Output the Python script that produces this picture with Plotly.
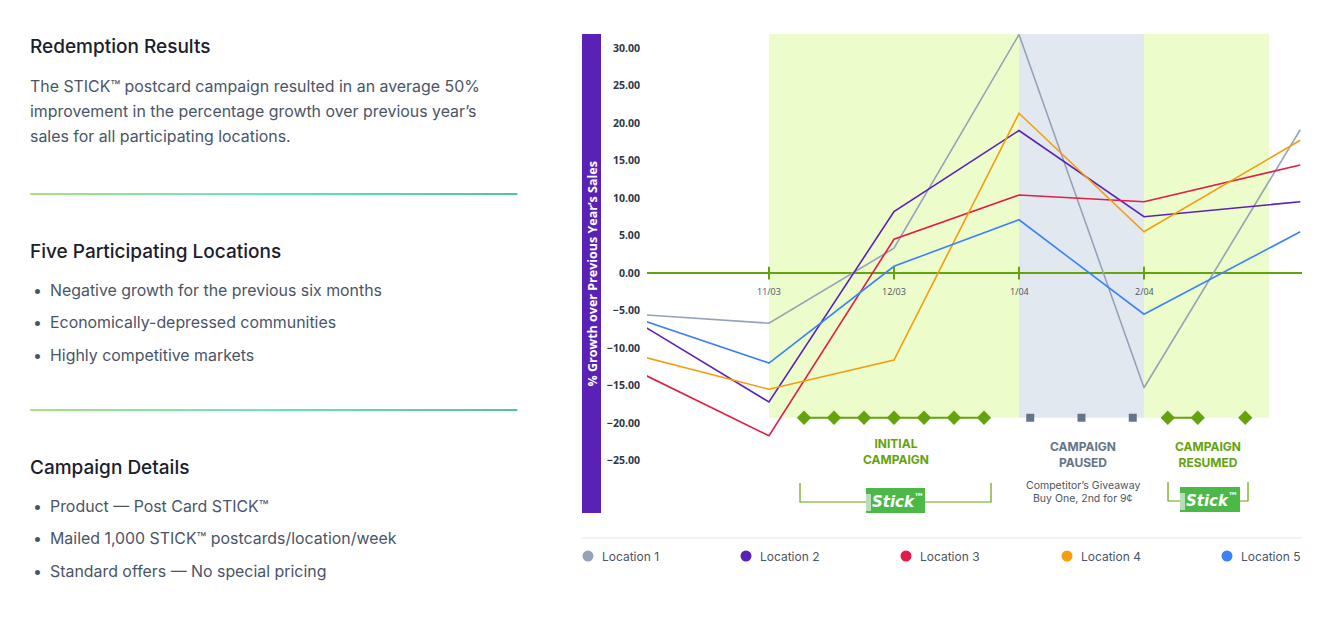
import plotly.graph_objects as go

# ---------------- data ----------------
x_pos = [-0.98, 0, 1, 2, 3, 4.25]
tick_pos = [0, 1, 2, 3]
tick_labels = ["11/03", "12/03", "1/04", "2/04"]
y_ticks = [-25, -20, -15, -10, -5, 0, 5, 10, 15, 20, 25, 30]

loc1 = [-5.6, -6.7, 3.3, 31.8, -15.3, 19.1]
loc2 = [-7.3, -17.2, 8.2, 19.0, 7.5, 9.5]
loc3 = [-13.7, -21.7, 4.5, 10.4, 9.5, 14.4]
loc4 = [-11.3, -15.5, -11.6, 21.3, 5.5, 17.7]
loc5 = [-6.5, -12.0, 0.9, 7.1, -5.5, 5.5]
series_names = ["Location 1", "Location 2", "Location 3", "Location 4", "Location 5"]
series_vals = [loc1, loc2, loc3, loc4, loc5]
series_colors = ["#94a3b8", "#5b21b6", "#e11d48", "#f59e0b", "#3b82f6"]

initial_weeks = [0.28, 0.52, 0.76, 1.0, 1.24, 1.48, 1.72]
paused_weeks = [2.09, 2.5, 2.91]
resumed_weeks_a = [3.19, 3.43]
resumed_weeks_b = [3.81]

phases = [(0, 2, "#ecfccb"), (2, 3, "#e2e8f0"), (3, 4, "#ecfccb")]
BAND_BOTTOM = -19.3

# ---------------- geometry helpers (screen pixels -> figure coords) ----------------
OFF = 8  # page body margin
W, H = 1323 - OFF, 620 - OFF
L, R, T, B = 647, 1302, 34, 513          # plot area in screen pixels
PW, PH = R - L, B - T
YMIN, YMAX = -32.0, 31.87


def px(xp):
    return (xp - L) / PW


def py(yp):
    return (B - yp) / PH


def vy(yp):
    return YMIN + (B - yp) / PH * (YMAX - YMIN)


def vx(xp):
    return (xp - 769) / 125.0


GREEN = "#65a30d"
SLATE = "#64748b"
TEXT = "#4a5568"
DARK = "#1a202c"

fig = go.Figure()

shapes = []
for x0, x1, c in phases:
    shapes.append(dict(type="rect", xref="x", yref="y", x0=x0, x1=x1, y0=BAND_BOTTOM, y1=YMAX,
                       fillcolor=c, line=dict(width=0), layer="below"))

shapes.append(dict(type="line", xref="x", yref="y", x0=vx(L), x1=vx(R), y0=0, y1=0,
                   line=dict(color=GREEN, width=2), layer="below"))
for t in tick_pos:
    shapes.append(dict(type="line", xref="x", yref="y", x0=t, x1=t, y0=-0.85, y1=0.85,
                       line=dict(color=GREEN, width=2), layer="below"))

shapes.append(dict(type="rect", xref="paper", yref="paper", x0=px(582), x1=px(601), y0=0, y1=1,
                   fillcolor="#5b21b6", line=dict(width=0)))


def bracket(xl, xr, ytop, ybot):
    return dict(type="path", xref="x", yref="y",
                path=f"M {vx(xl)} {vy(ytop)} L {vx(xl)} {vy(ybot)} L {vx(xr)} {vy(ybot)} L {vx(xr)} {vy(ytop)}",
                line=dict(color=GREEN, width=1.2))


shapes.append(bracket(800, 991, 483, 502))
shapes.append(bracket(1168, 1248, 482, 501))
LOGOS = [(866, 925, 488, 513), (1180, 1240, 487, 512)]
for (xl, xr, yt, yb) in LOGOS:
    shapes.append(dict(type="rect", xref="x", yref="y", x0=vx(xl), x1=vx(xr), y0=vy(yb), y1=vy(yt),
                       fillcolor="#4cb848", line=dict(width=0)))
    shapes.append(dict(type="rect", xref="x", yref="y", x0=vx(xl), x1=vx(xl + 5), y0=vy(yb - 2), y1=vy(yt + 6),
                       fillcolor="#b7dfb3", line=dict(width=0)))

# legend separator
shapes.append(dict(type="line", xref="paper", yref="paper", x0=px(582), x1=1, y0=py(538), y1=py(538),
                   line=dict(color="#e2e8f0", width=1)))

stops = [(0.0, (168, 224, 128)), (0.5, (100, 228, 192)), (1.0, (80, 194, 160))]


def grad_color(f):
    for (f0, c0), (f1, c1) in zip(stops[:-1], stops[1:]):
        if f0 <= f <= f1:
            t = (f - f0) / (f1 - f0)
            return "rgb(%d,%d,%d)" % tuple(round(a + (b - a) * t) for a, b in zip(c0, c1))
    return "rgb(80,194,160)"


NSEG = 40
for yline in (194, 410):
    for i in range(NSEG):
        xa = 30 + (517 - 30) * i / NSEG
        xb = 30 + (517 - 30) * (i + 1) / NSEG
        shapes.append(dict(type="line", xref="paper", yref="paper", x0=px(xa), x1=px(xb) + 0.0005,
                           y0=py(yline), y1=py(yline), line=dict(color=grad_color((i + 0.5) / NSEG), width=2)))

for name, vals, col in zip(series_names, series_vals, series_colors):
    fig.add_trace(go.Scatter(x=x_pos, y=vals, mode="lines", name=name, showlegend=False,
                             line=dict(color=col, width=1.6), cliponaxis=False, hoverinfo="name+y"))

fig.add_trace(go.Scatter(x=initial_weeks, y=[BAND_BOTTOM] * len(initial_weeks), mode="lines+markers",
                         line=dict(color=GREEN, width=2), marker=dict(symbol="diamond", size=11, color=GREEN),
                         showlegend=False, cliponaxis=False, hoverinfo="skip"))
fig.add_trace(go.Scatter(x=paused_weeks, y=[BAND_BOTTOM] * len(paused_weeks), mode="markers",
                         marker=dict(symbol="square", size=8, color=SLATE),
                         showlegend=False, cliponaxis=False, hoverinfo="skip"))
fig.add_trace(go.Scatter(x=resumed_weeks_a, y=[BAND_BOTTOM] * len(resumed_weeks_a), mode="lines+markers",
                         line=dict(color=GREEN, width=2), marker=dict(symbol="diamond", size=11, color=GREEN),
                         showlegend=False, cliponaxis=False, hoverinfo="skip"))
fig.add_trace(go.Scatter(x=resumed_weeks_b, y=[BAND_BOTTOM] * len(resumed_weeks_b), mode="markers",
                         marker=dict(symbol="diamond", size=11, color=GREEN),
                         showlegend=False, cliponaxis=False, hoverinfo="skip"))

ann = []
CHART_FONT = "Open Sans"
for t, lab in zip(tick_pos, tick_labels):
    ann.append(dict(x=t, y=0, xref="x", yref="y", text=lab, showarrow=False, yshift=-18,
                    font=dict(family=CHART_FONT, size=9, color=TEXT)))

ann.append(dict(x=px(591.5), y=py(274), xref="paper", yref="paper", text="% Growth over Previous Year’s Sales",
                textangle=-90, showarrow=False, xanchor="center", yanchor="middle",
                font=dict(family=CHART_FONT, size=12.5, color="white", weight="bold")))

ann.append(dict(x=vx(896), y=vy(451), xref="x", yref="y", text="INITIAL<br>CAMPAIGN", showarrow=False,
                font=dict(family="Inter", size=12, color=GREEN, weight="bold")))
ann.append(dict(x=vx(1083), y=vy(454), xref="x", yref="y", text="CAMPAIGN<br>PAUSED", showarrow=False,
                font=dict(family="Inter", size=12, color=SLATE, weight="bold")))
ann.append(dict(x=vx(1208), y=vy(454), xref="x", yref="y", text="CAMPAIGN<br>RESUMED", showarrow=False,
                font=dict(family="Inter", size=12, color=GREEN, weight="bold")))
for yy, txt in [(485, "Competitor’s Giveaway"), (498, "Buy One, 2nd for 9¢")]:
    ann.append(dict(x=vx(1083), y=vy(yy), xref="x", yref="y", text=txt, showarrow=False,
                    font=dict(family="Inter", size=10.5, color="#4b5563")))
for xl, xr, yt, yb in LOGOS:
    ann.append(dict(x=vx((xl + xr) / 2 + 2), y=vy((yt + yb) / 2), xref="x", yref="y",
                    text="<b><i>Stick</i></b><sup>™</sup>", showarrow=False,
                    font=dict(family="DejaVu Sans", size=15, color="white", weight="bold")))

# legend row: dot + label per series
LEG_Y = 556
LEG_DOT_X = [588, 746, 906, 1067, 1227]
for xd, name, col in zip(LEG_DOT_X, series_names, series_colors):
    shapes.append(dict(type="circle", xref="paper", yref="paper", xsizemode="pixel", ysizemode="pixel",
                       xanchor=px(xd), yanchor=py(LEG_Y), x0=-5.5, x1=5.5, y0=-5.5, y1=5.5,
                       fillcolor=col, line=dict(width=0)))
    ann.append(dict(x=px(xd + 12), y=py(LEG_Y), xref="paper", yref="paper", text=name, showarrow=False,
                    xanchor="left", yanchor="middle", font=dict(family="Inter", size=12, color=TEXT)))


def ltext(x, y, text, size, color, weight="normal"):
    ann.append(dict(x=px(x - 2), y=py(y), xref="paper", yref="paper", text=text, showarrow=False,
                    xanchor="left", yanchor="middle", font=dict(family="Inter", size=size, color=color, weight=weight)))


BODY = 15.9
ltext(30, 46, "Redemption Results", 19, DARK, 500)
ltext(30, 86, "The STICK™ postcard campaign resulted in an average 50%", BODY, TEXT)
ltext(30, 111, "improvement in the percentage growth over previous year’s", BODY, TEXT)
ltext(30, 137, "sales for all participating locations.", BODY, TEXT)
ltext(30, 251, "Five Participating Locations", 19, DARK, 500)
for yy, t in [(290, "Negative growth for the previous six months"),
              (322, "Economically-depressed communities"),
              (355, "Highly competitive markets")]:
    ltext(33, yy, "•", BODY, TEXT)
    ltext(50, yy, t, BODY, TEXT)
ltext(30, 467, "Campaign Details", 19, DARK, 500)
for yy, t in [(506, "Product — Post Card STICK™"),
              (538, "Mailed 1,000 STICK™ postcards/location/week"),
              (571, "Standard offers — No special pricing")]:
    ltext(33, yy, "•", BODY, TEXT)
    ltext(50, yy, t, BODY, TEXT)

fig.update_layout(
    width=W, height=H, margin=dict(l=L - OFF, r=(W + OFF) - R, t=T - OFF, b=(H + OFF) - B),
    paper_bgcolor="white", plot_bgcolor="white",
    xaxis=dict(range=[vx(L), vx(R)], showgrid=False, zeroline=False, showticklabels=False, fixedrange=True),
    yaxis=dict(range=[YMIN, YMAX], tickvals=y_ticks, tickformat=".2f", showgrid=False, zeroline=False,
               ticks="outside", ticklen=4, tickcolor="rgba(0,0,0,0)",
               tickfont=dict(family=CHART_FONT, size=10.5, color="#2d3748", weight="bold")),
    shapes=shapes, annotations=ann,
    showlegend=False,
)

fig.write_html("out.html")
